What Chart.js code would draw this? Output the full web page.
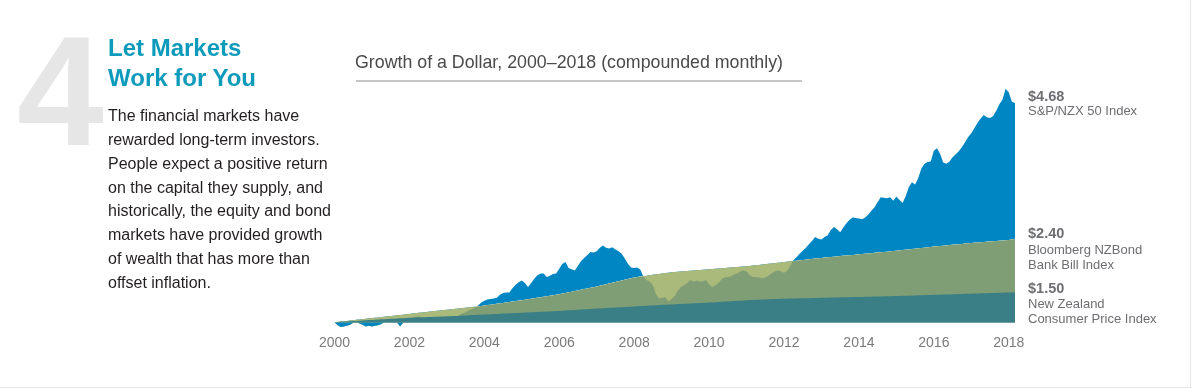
<!DOCTYPE html>
<html>
<head>
<meta charset="utf-8">
<script src="https://cdn.jsdelivr.net/npm/chart.js@4/dist/chart.umd.min.js"></script>
<style>
  html, body { margin: 0; padding: 0; background: #fff; }
  body { width: 1200px; height: 389px; position: relative; overflow: hidden; font-family: "Liberation Sans", Arial, sans-serif; }
  #chart { position: absolute; left: 0; top: 0; }
  .t { position: absolute; white-space: nowrap; }
  #frame { position: absolute; left: 0; top: 0; width: 1190px; height: 387px; border-right: 1px solid #e6e6e6; border-bottom: 1px solid #e6e6e6; }
  #big4 { left: 17px; top: 13px; font-size: 156px; line-height: 156px; font-weight: bold; color: #e6e6e6; }
  #head { left: 108px; top: 33px; font-size: 24px; line-height: 29.5px; font-weight: bold; color: #0e9bbb; }
  #body { left: 108px; top: 104.3px; font-size: 16px; line-height: 23.8px; color: #231f20; }
  #ctitle { left: 355px; top: 52px; font-size: 17.8px; line-height: 20px; color: #4a4a4a; }
  #rule { position: absolute; left: 356px; top: 80px; width: 446px; height: 2px; background: #c6c6c6; }
  .val { left: 1028px; font-size: 14.5px; line-height: 16px; font-weight: bold; color: #6d6e71; }
  .name { left: 1028px; font-size: 13px; line-height: 14.5px; color: #6d6e71; }
</style>
</head>
<body>
<div id="frame"></div>
<canvas id="chart" width="1200" height="389"></canvas>
<div class="t" id="big4">4</div>
<div class="t" id="head">Let Markets<br>Work for You</div>
<div class="t" id="body">The financial markets have<br>rewarded long-term investors.<br>People expect a positive return<br>on the capital they supply, and<br>historically, the equity and bond<br>markets have provided growth<br>of wealth that has more than<br>offset inflation.</div>
<div class="t" id="ctitle">Growth of a Dollar, 2000–2018 (compounded monthly)</div>
<div id="rule"></div>
<div class="t val" style="top:88px">$4.68</div>
<div class="t name" style="top:104.25px">S&amp;P/NZX 50 Index</div>
<div class="t val" style="top:224.7px">$2.40</div>
<div class="t name" style="top:243.25px">Bloomberg NZBond<br>Bank Bill Index</div>
<div class="t val" style="top:279.7px">$1.50</div>
<div class="t name" style="top:297.25px">New Zealand<br>Consumer Price Index</div>
<script>
// Monthly observations, January 2000 through March 2018
const startYear = 2000;
const yearTicks = [2000, 2002, 2004, 2006, 2008, 2010, 2012, 2014, 2016, 2018];

// S&P/NZX 50 Index growth of $1
const sp = [
  1.00,0.95,0.92,0.93,0.94,0.96,0.99,1.01,0.98,0.96,0.93,0.94,
  0.93,0.94,0.95,0.97,1.00,1.02,1.03,1.04,1.00,0.93,0.99,1.03,
  1.06,1.08,1.09,1.10,1.07,1.05,1.04,1.06,1.05,1.04,1.06,1.07,
  1.05,1.03,1.04,1.08,1.12,1.15,1.17,1.20,1.22,1.25,1.28,1.33,
  1.36,1.38,1.39,1.40,1.41,1.46,1.49,1.50,1.50,1.57,1.63,1.67,
  1.70,1.66,1.59,1.66,1.73,1.79,1.82,1.82,1.76,1.78,1.81,1.82,
  1.90,1.98,2.01,1.91,1.89,1.87,1.95,2.03,2.08,2.13,2.18,2.17,
  2.19,2.25,2.29,2.25,2.24,2.26,2.22,2.19,2.15,2.07,1.98,1.92,
  1.91,1.92,1.88,1.76,1.71,1.68,1.62,1.47,1.40,1.41,1.42,1.35,
  1.39,1.44,1.53,1.59,1.62,1.66,1.71,1.68,1.70,1.68,1.69,1.71,
  1.64,1.59,1.62,1.66,1.72,1.75,1.76,1.77,1.80,1.82,1.85,1.87,
  1.85,1.79,1.76,1.76,1.75,1.74,1.75,1.78,1.82,1.85,1.87,1.85,
  1.83,1.86,1.95,2.04,2.09,2.15,2.20,2.25,2.31,2.37,2.43,2.40,
  2.39,2.43,2.46,2.55,2.60,2.56,2.51,2.59,2.66,2.72,2.76,2.75,
  2.74,2.73,2.76,2.81,2.87,2.93,3.02,3.10,3.09,3.08,3.10,3.04,
  3.11,3.05,3.00,3.12,3.27,3.35,3.31,3.42,3.58,3.66,3.69,3.70,
  3.88,3.92,3.83,3.68,3.66,3.70,3.77,3.82,3.87,3.94,4.02,4.11,
  4.17,4.26,4.35,4.42,4.48,4.44,4.43,4.46,4.55,4.66,4.74,4.92,
  4.86,4.70,4.68
];

// Bloomberg NZBond Bank Bill Index growth of $1
const bond = [
  1.000,1.006,1.012,1.017,1.023,1.029,1.035,1.041,1.047,1.052,1.058,1.064,
  1.070,1.076,1.082,1.088,1.093,1.099,1.105,1.111,1.117,1.122,1.128,1.134,
  1.140,1.146,1.152,1.158,1.163,1.169,1.175,1.181,1.187,1.192,1.198,1.204,
  1.210,1.216,1.222,1.228,1.233,1.239,1.245,1.251,1.257,1.262,1.268,1.274,
  1.280,1.288,1.295,1.303,1.310,1.318,1.325,1.333,1.340,1.348,1.355,1.363,
  1.370,1.378,1.387,1.395,1.403,1.412,1.420,1.428,1.437,1.445,1.453,1.462,
  1.470,1.481,1.492,1.503,1.513,1.524,1.535,1.546,1.557,1.568,1.578,1.589,
  1.600,1.613,1.625,1.638,1.650,1.663,1.675,1.688,1.700,1.713,1.725,1.738,
  1.750,1.758,1.766,1.774,1.782,1.790,1.798,1.805,1.812,1.819,1.826,1.833,
  1.840,1.844,1.848,1.852,1.857,1.861,1.865,1.869,1.873,1.878,1.882,1.886,
  1.890,1.894,1.898,1.902,1.907,1.911,1.915,1.919,1.923,1.928,1.932,1.936,
  1.940,1.946,1.952,1.958,1.963,1.969,1.975,1.981,1.987,1.992,1.998,2.004,
  2.010,2.016,2.022,2.028,2.033,2.039,2.045,2.051,2.057,2.062,2.068,2.074,
  2.080,2.085,2.090,2.095,2.100,2.105,2.110,2.115,2.120,2.125,2.130,2.135,
  2.140,2.145,2.150,2.155,2.160,2.165,2.170,2.175,2.180,2.185,2.190,2.195,
  2.200,2.206,2.212,2.218,2.223,2.229,2.235,2.241,2.247,2.252,2.258,2.264,
  2.270,2.275,2.280,2.285,2.290,2.295,2.300,2.305,2.310,2.315,2.320,2.325,
  2.330,2.334,2.338,2.343,2.347,2.351,2.355,2.359,2.363,2.368,2.372,2.376,
  2.380,2.390,2.400
];

// New Zealand Consumer Price Index growth of $1
const cpi = [
  1.000,1.003,1.007,1.010,1.013,1.017,1.020,1.023,1.027,1.030,1.033,1.037,
  1.040,1.043,1.046,1.049,1.052,1.055,1.058,1.060,1.063,1.066,1.069,1.072,
  1.075,1.077,1.079,1.081,1.083,1.085,1.088,1.090,1.092,1.094,1.096,1.098,
  1.100,1.102,1.105,1.107,1.110,1.112,1.115,1.117,1.120,1.122,1.125,1.127,
  1.130,1.132,1.135,1.137,1.140,1.142,1.145,1.147,1.150,1.152,1.155,1.157,
  1.160,1.162,1.165,1.167,1.170,1.172,1.175,1.177,1.180,1.182,1.185,1.187,
  1.190,1.193,1.197,1.200,1.203,1.207,1.210,1.213,1.217,1.220,1.223,1.227,
  1.230,1.233,1.236,1.239,1.242,1.245,1.248,1.250,1.253,1.256,1.259,1.262,
  1.265,1.268,1.271,1.274,1.277,1.280,1.283,1.286,1.289,1.292,1.294,1.297,
  1.300,1.302,1.305,1.307,1.310,1.312,1.315,1.317,1.320,1.322,1.325,1.327,
  1.330,1.333,1.337,1.340,1.343,1.347,1.350,1.353,1.357,1.360,1.363,1.367,
  1.370,1.372,1.374,1.376,1.378,1.380,1.383,1.385,1.387,1.389,1.391,1.393,
  1.395,1.396,1.398,1.399,1.400,1.401,1.403,1.404,1.405,1.406,1.408,1.409,
  1.410,1.411,1.413,1.414,1.415,1.416,1.418,1.419,1.420,1.421,1.423,1.424,
  1.425,1.426,1.428,1.429,1.430,1.431,1.433,1.434,1.435,1.436,1.438,1.439,
  1.440,1.442,1.443,1.445,1.447,1.448,1.450,1.452,1.453,1.455,1.457,1.458,
  1.460,1.462,1.463,1.465,1.467,1.468,1.470,1.472,1.473,1.475,1.477,1.478,
  1.480,1.482,1.483,1.485,1.487,1.488,1.490,1.492,1.493,1.495,1.497,1.498,
  1.499,1.500,1.500
];

const colors = {
  equity: '#0087c3',
  bondOverlap: '#7f9e75',
  bondOnly: '#a9ba7b',
  cpi: '#3a7f85',
  baseline: '#b4b4b4',
  tick: '#7a7a7a'
};

const toXY = arr => arr.map((v, i) => ({ x: startYear + i / 12, y: v }));
const lastX = startYear + (sp.length - 1) / 12;
const FONT = '"Liberation Sans", Arial, sans-serif';

const common = { borderWidth: 0, borderColor: 'rgba(0,0,0,0)', pointRadius: 0, pointHoverRadius: 0, tension: 0 };

new Chart(document.getElementById('chart'), {
  type: 'line',
  data: {
    datasets: [
      Object.assign({ label: 'Bloomberg NZBond Bank Bill Index', data: toXY(bond), order: 3,
        backgroundColor: colors.bondOverlap, fill: { target: { value: 1 } } }, common),
      Object.assign({ label: 'S&P/NZX 50 Index', data: toXY(sp), order: 2,
        backgroundColor: colors.equity,
        fill: { target: 0, above: colors.equity, below: colors.bondOnly } }, common),
      Object.assign({ label: 'S&P/NZX 50 Index (below $1)', data: toXY(sp), order: 1,
        backgroundColor: colors.equity,
        fill: { target: { value: 1 }, above: 'rgba(0,0,0,0)', below: colors.equity } }, common),
      Object.assign({ label: 'New Zealand Consumer Price Index', data: toXY(cpi), order: 0,
        backgroundColor: colors.cpi, fill: { target: { value: 1 } } }, common)
    ]
  },
  options: {
    responsive: false,
    animation: false,
    devicePixelRatio: 1,
    events: [],
    layout: { padding: { left: 334.5, right: 185, top: 72, bottom: 33 } },
    plugins: { legend: { display: false }, tooltip: { enabled: false } },
    scales: {
      x: {
        type: 'linear', min: startYear, max: lastX,
        afterBuildTicks: s => { s.ticks = yearTicks.map(v => ({ value: v })); },
        grid: { display: false, drawTicks: false },
        border: { display: false },
        ticks: { callback: v => String(v), color: colors.tick, font: { family: FONT, size: 14 }, padding: 4, maxRotation: 0, autoSkip: false }
      },
      y: {
        type: 'linear', min: 0.85, max: 5.2,
        afterBuildTicks: s => { s.ticks = [{ value: 1 }]; },
        grid: { drawTicks: false, color: colors.baseline, lineWidth: 1 },
        border: { display: false },
        ticks: { display: false }
      }
    }
  }
});
</script>
</body>
</html>
